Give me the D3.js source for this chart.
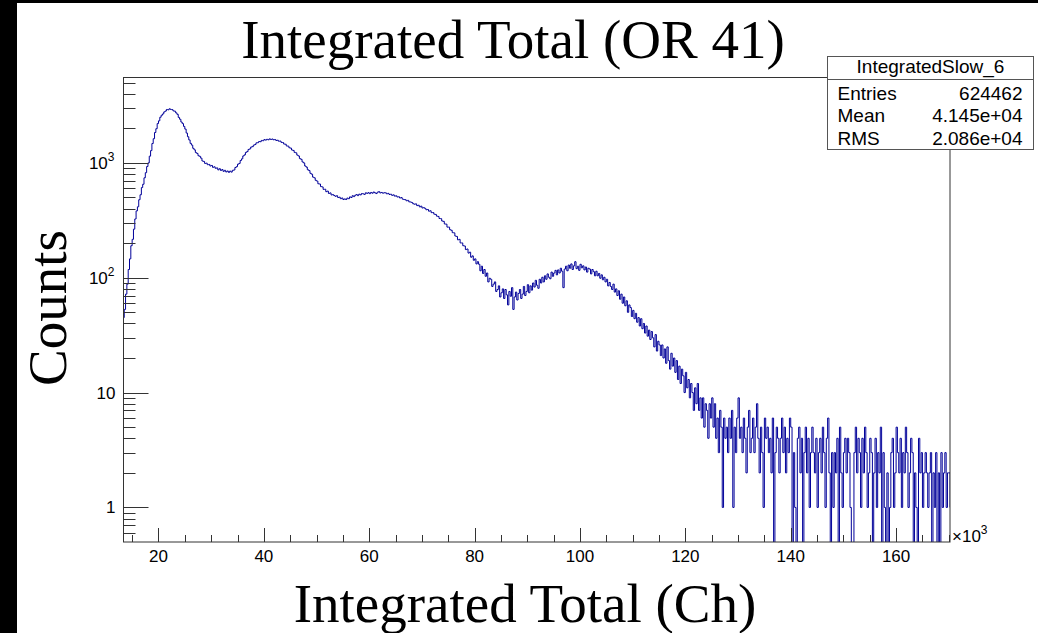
<!DOCTYPE html>
<html lang="en">
<head>
<meta charset="UTF-8">
<title>Integrated Total (OR 41)</title>
<script src="https://d3js.org/d3.v7.min.js"></script>
<style>
  body { margin: 0; background: #fff; }
  svg { display: block; }
  .sans { font-family: "Liberation Sans", Arial, Helvetica, sans-serif; font-size: 17px; fill: #000; }
  .stat { font-size: 19px; }
  .serif { font-family: "Liberation Serif", "Times New Roman", serif; font-size: 55px; fill: #000; }
</style>
</head>
<body>
<div id="chart"></div>
<script>
// histogram, x in units of 10^3 channels, 0.25 per bin
const histName = "IntegratedSlow_6";
const statLabels = ["Entries", "Mean", "RMS"];
const statValues = ["624462", "4.145e+04", "2.086e+04"];
const binLow = 13.0;
const binWidth = 0.25;
const counts = [
  36, 45, 53, 72, 88, 118, 146, 190, 216, 265,
  325, 382, 415, 478, 528, 610, 652, 742, 822, 930,
  1000, 1145, 1280, 1475, 1625, 1840, 1985, 2200, 2325, 2500,
  2600, 2670, 2780, 2830, 2920, 2900, 2960, 2920, 2910, 2840,
  2820, 2730, 2650, 2490, 2400, 2270, 2200, 2080, 1970, 1820,
  1690, 1585, 1480, 1430, 1340, 1300, 1230, 1210, 1155, 1140,
  1100, 1040, 1030, 990, 995, 965, 970, 940, 950, 915,
  925, 898, 905, 870, 890, 860, 875, 845, 862, 835,
  850, 828, 848, 832, 862, 868, 912, 928, 975, 990,
  1050, 1085, 1150, 1175, 1235, 1255, 1310, 1325, 1375, 1385,
  1430, 1445, 1495, 1500, 1535, 1530, 1570, 1560, 1595, 1580,
  1605, 1590, 1620, 1600, 1615, 1590, 1600, 1570, 1575, 1545,
  1550, 1510, 1505, 1460, 1455, 1405, 1400, 1355, 1345, 1295,
  1285, 1235, 1225, 1170, 1150, 1090, 1075, 1020, 1000, 940,
  920, 872, 858, 812, 798, 752, 742, 705, 695, 658,
  655, 622, 618, 588, 590, 562, 568, 542, 548, 526,
  530, 520, 512, 518, 500, 503, 488, 495, 480, 486,
  480, 494, 488, 506, 500, 518, 509, 523, 530, 519,
  534, 527, 541, 538, 532, 549, 543, 551, 540, 553,
  545, 558, 549, 541, 556, 562, 548, 553, 545, 550,
  549, 538, 543, 531, 534, 522, 527, 514, 517, 505,
  507, 495, 499, 484, 480, 478, 468, 472, 458, 457,
  452, 441, 437, 440, 425, 428, 414, 420, 405, 408,
  402, 391, 393, 380, 383, 369, 370, 358, 356, 344,
  342, 328, 327, 312, 310, 294, 293, 276, 276, 262,
  259, 247, 246, 231, 229, 214, 216, 201, 201, 190,
  189, 176, 178, 164, 167, 151, 155, 142, 146, 132,
  138, 131, 115, 126, 109, 118, 103, 110, 92, 99,
  97, 84, 88, 92, 76, 79, 85, 68, 74, 80,
  66, 79, 71, 58, 76, 69, 82, 53, 68, 75,
  64, 73, 79, 66, 72, 84, 70, 76, 87, 74,
  85, 78, 90, 83, 95, 86, 81, 97, 90, 101,
  92, 104, 97, 108, 101, 98, 112, 103, 110, 116,
  106, 117, 110, 121, 114, 82, 119, 126, 115, 129,
  121, 132, 118, 127, 138, 120, 126, 116, 131, 122,
  127, 117, 124, 112, 121, 119, 108, 118, 113, 104,
  114, 104, 109, 99, 106, 96, 101, 92, 97, 85,
  91, 84, 79, 88, 75, 80, 70, 77, 65, 72,
  60, 68, 57, 63, 50, 58, 55, 46, 52, 44,
  49, 41, 45, 38, 44, 36, 40, 33, 38, 31,
  35, 29, 34, 30, 25, 32, 23, 28, 26, 21,
  26, 20, 24, 18, 25, 19, 16, 22, 17, 20,
  15, 19, 13, 17, 12, 16, 14, 10, 15, 11,
  13, 9, 12, 10, 7, 11, 8, 12, 7, 9,
  6, 9, 5, 8, 7, 4, 8, 6, 9, 5,
  8, 4, 6, 3, 7, 5, 1, 6, 4, 5,
  3, 6, 4, 7, 1, 5, 3, 6, 9, 4,
  5, 3, 6, 4, 2, 5, 7, 3, 4, 6,
  3, 5, 8, 4, 2, 5, 3, 1, 6, 4,
  5, 3, 4, 2, 6, 0, 3, 5, 4, 2,
  4, 6, 3, 5, 2, 4, 3, 6, 5, 0,
  3, 1, 0, 4, 5, 2, 4, 0, 3, 5,
  2, 4, 1, 3, 5, 3, 2, 4, 1, 3,
  4, 2, 5, 3, 1, 4, 6, 2, 0, 3,
  1, 3, 2, 4, 0, 5, 2, 1, 3, 4,
  2, 4, 3, 1, 0, 0, 3, 5, 2, 4,
  3, 1, 4, 2, 5, 3, 1, 2, 4, 3,
  0, 2, 4, 1, 3, 2, 5, 0, 3, 1,
  0, 2, 0, 1, 3, 4, 1, 2, 5, 3,
  2, 4, 1, 3, 2, 5, 3, 1, 2, 4,
  3, 0, 2, 1, 0, 4, 2, 3, 1, 2,
  3, 2, 1, 2, 3, 0, 2, 1, 3, 0,
  2, 0, 3, 1, 2, 3, 1, 2, 2, 1
];
const xTicks = [20, 40, 60, 80, 100, 120, 140, 160];
const yTicks = [1, 10, 100, 1000];
const yTickLabels = [["1", ""], ["10", ""], ["10", "2"], ["10", "3"]];

const W = 1038, H = 633;
const frame = { left: 123.5, right: 950, top: 77, bottom: 542 };

const svg = d3.select("#chart").append("svg")
  .attr("width", W).attr("height", H);

// black strips along the left and top edge of the capture
svg.append("rect").attr("x", 0).attr("y", 0).attr("width", 17).attr("height", H).attr("fill", "#000");
svg.append("rect").attr("x", 0).attr("y", 0).attr("width", W).attr("height", 3).attr("fill", "#000");

const x = d3.scaleLinear().domain([13.36, 170.23]).range([frame.left, frame.right]);
const y = d3.scaleLog().domain([0.5, 5600]).range([frame.bottom, frame.top]);

svg.append("clipPath").attr("id", "clip").append("rect")
  .attr("x", frame.left).attr("y", frame.top)
  .attr("width", frame.right - frame.left).attr("height", frame.bottom - frame.top);

// histogram as a step line, empty bins go to the bottom of the frame
const yv = c => c > 0 ? y(c) : frame.bottom + 2;
let d = "";
counts.forEach((c, i) => {
  const x0 = x(binLow + i * binWidth), x1 = x(binLow + (i + 1) * binWidth);
  d += (i === 0 ? `M${x0},${yv(c)}` : `V${yv(c)}`) + `H${x1}`;
});
svg.append("path")
  .attr("d", d)
  .attr("clip-path", "url(#clip)")
  .attr("fill", "none")
  .attr("stroke", "#000099")
  .attr("stroke-width", 1);

// frame
svg.append("rect")
  .attr("x", frame.left).attr("y", frame.top + 0.5)
  .attr("width", frame.right - frame.left).attr("height", frame.bottom - frame.top - 0.5)
  .attr("fill", "none").attr("stroke", "#333").attr("stroke-width", 1);

// x axis ticks (ticks point up into the frame)
const xMinor = d3.range(15, 171, 5).filter(v => !xTicks.includes(v));
const tg = svg.append("g").attr("stroke", "#333").attr("stroke-width", 1);
xTicks.forEach(v => {
  tg.append("line").attr("x1", Math.round(x(v)) + 0.5).attr("x2", Math.round(x(v)) + 0.5)
    .attr("y1", frame.bottom).attr("y2", frame.bottom - 14);
});
xMinor.forEach(v => {
  tg.append("line").attr("x1", Math.round(x(v)) + 0.5).attr("x2", Math.round(x(v)) + 0.5)
    .attr("y1", frame.bottom).attr("y2", frame.bottom - 7);
});
svg.selectAll(".xlab").data(xTicks).enter().append("text")
  .attr("class", "sans")
  .attr("x", v => x(v)).attr("y", frame.bottom + 20)
  .attr("text-anchor", "middle")
  .text(v => v);

const xe = svg.append("text").attr("class", "sans")
  .attr("x", frame.right + 2).attr("y", frame.bottom);
xe.append("tspan").text("\u00d710");
xe.append("tspan").attr("dy", -8).attr("font-size", 12).text("3");

// y axis ticks (log), minors at 2..9 of each decade
const yMinor = [];
[-1, 0, 1, 2, 3].forEach(e => {
  for (let m = 2; m <= 9; m++) {
    const v = m * Math.pow(10, e);
    if (v > 0.5 && v < 5600) yMinor.push(v);
  }
});
yTicks.forEach(v => {
  tg.append("line").attr("x1", frame.left).attr("x2", frame.left + 25)
    .attr("y1", Math.round(y(v)) + 0.5).attr("y2", Math.round(y(v)) + 0.5);
});
yMinor.forEach(v => {
  tg.append("line").attr("x1", frame.left).attr("x2", frame.left + 12)
    .attr("y1", Math.round(y(v)) + 0.5).attr("y2", Math.round(y(v)) + 0.5);
});
yTicks.forEach((v, i) => {
  const [base, exp] = yTickLabels[i];
  const t = svg.append("text").attr("class", "sans")
    .attr("x", exp ? frame.left - 9 : frame.left - 8)
    .attr("y", y(v) + 6)
    .attr("text-anchor", "end");
  t.append("tspan").text(base);
  if (exp) t.append("tspan").attr("dy", -8).attr("font-size", 12).text(exp);
});

// titles
svg.append("text").attr("class", "serif")
  .attr("x", 513).attr("y", 58).attr("text-anchor", "middle")
  .text("Integrated Total (OR 41)");
svg.append("text").attr("class", "serif")
  .attr("x", 525).attr("y", 622).attr("text-anchor", "middle")
  .text("Integrated Total (Ch)");
svg.append("text").attr("class", "serif")
  .attr("transform", "translate(66,308) rotate(-90)")
  .attr("text-anchor", "middle")
  .text("Counts");

// statistics box
const box = { x: 827.5, y: 56.5, w: 206, h: 93, head: 23 };
svg.append("rect").attr("x", box.x).attr("y", box.y).attr("width", box.w).attr("height", box.h)
  .attr("fill", "#fff").attr("stroke", "#555").attr("stroke-width", 1);
svg.append("line").attr("x1", box.x).attr("x2", box.x + box.w)
  .attr("y1", box.y + box.head).attr("y2", box.y + box.head)
  .attr("stroke", "#555").attr("stroke-width", 1);
svg.append("text").attr("class", "sans stat")
  .attr("x", box.x + box.w / 2).attr("y", box.y + 16.5)
  .attr("text-anchor", "middle").text(histName);
statLabels.forEach((lab, i) => {
  const by = box.y + 43 + i * 22.5;
  svg.append("text").attr("class", "sans stat").attr("x", box.x + 10).attr("y", by).text(lab);
  svg.append("text").attr("class", "sans stat").attr("x", box.x + box.w - 11).attr("y", by)
    .attr("text-anchor", "end").text(statValues[i]);
});
</script>
</body>
</html>
